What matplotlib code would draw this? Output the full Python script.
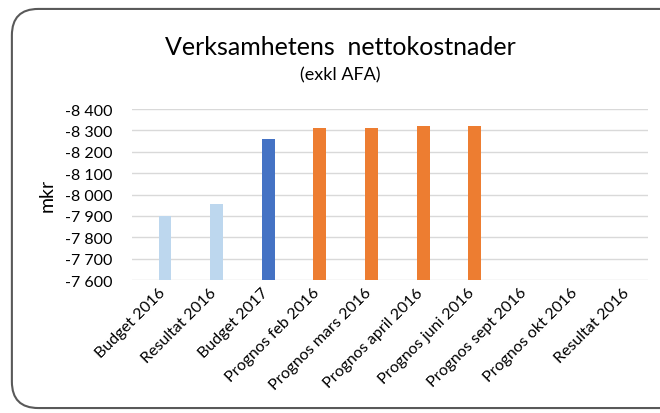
import matplotlib
matplotlib.use("Agg")
import numpy as np
from matplotlib import pyplot as plt
from matplotlib.patches import FancyBboxPatch
from matplotlib.ticker import FuncFormatter, MultipleLocator

categories = ["Budget 2016", "Resultat 2016", "Budget 2017", "Prognos feb 2016",
              "Prognos mars 2016", "Prognos april 2016", "Prognos juni 2016",
              "Prognos sept 2016", "Prognos okt 2016", "Resultat 2016"]
values = [-7900, -7955, -8262, -8312, -8313, -8322, -8322, np.nan, np.nan, np.nan]
bar_colors = ["#BDD7EE", "#BDD7EE", "#4472C4", "#ED7D31", "#ED7D31",
              "#ED7D31", "#ED7D31", "#ED7D31", "#ED7D31", "#ED7D31"]
base = -7600

plt.rcParams["font.family"] = ["Lato", "DejaVu Sans"]

fig = plt.figure(figsize=(6.6, 4.14), dpi=100)
ax = fig.add_axes([0.2, 0.321, 0.782, 0.413])

x = np.arange(len(categories))
heights = [v - base for v in values]
ax.bar(x + 0.14, heights, width=0.25, bottom=base, color=bar_colors, zorder=3)

ax.set_xlim(-0.5, len(categories) - 0.5)
ax.set_ylim(-7600, -8400)
ax.yaxis.set_major_locator(MultipleLocator(100))
ax.yaxis.set_major_formatter(FuncFormatter(lambda v, p: f"{int(v):,}".replace(",", " ")))
ax.grid(axis="y", color="#D9D9D9", linewidth=1, zorder=0)
for s in ax.spines.values():
    s.set_visible(False)
ax.tick_params(axis="both", length=0, labelsize=11.5, colors="#000000")
ax.tick_params(axis="y", pad=14)
ax.set_xticks(x)
ax.set_xticklabels(categories, rotation=45, ha="right", rotation_mode="anchor", fontsize=11.5)
ax.set_ylabel("mkr", fontsize=14, labelpad=7)

fig.text(0.515, 0.885, "Verksamhetens  nettokostnader", ha="center", va="center", fontsize=18)
fig.text(0.515, 0.818, "(exkl AFA)", ha="center", va="center", fontsize=13)

border = FancyBboxPatch((0.018, 0.012), 1.05, 0.964, boxstyle="round,pad=0,rounding_size=0.04",
                        mutation_aspect=660 / 414, transform=fig.transFigure, fill=False,
                        edgecolor="#595959", linewidth=1.5, clip_on=False)
fig.patches.append(border)

fig.savefig("out.png", dpi=100)
